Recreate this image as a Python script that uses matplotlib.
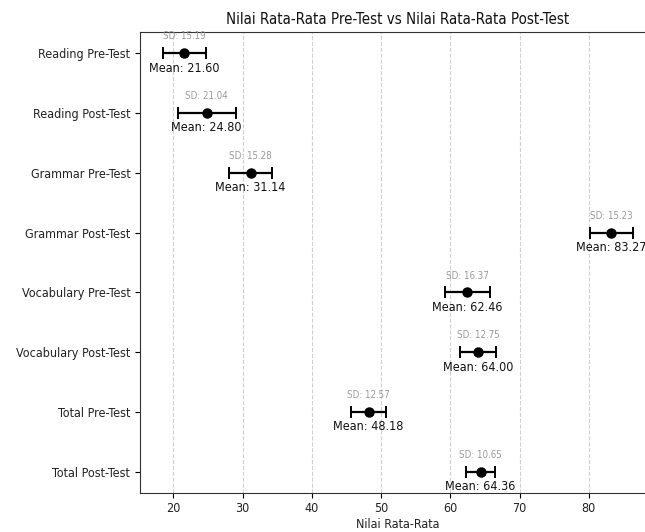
import numpy as np
import matplotlib
matplotlib.use("Agg")
import matplotlib.pyplot as plt
from matplotlib import font_manager as fm

categories = ["Reading Pre-Test", "Reading Post-Test", "Grammar Pre-Test",
              "Grammar Post-Test", "Vocabulary Pre-Test", "Vocabulary Post-Test",
              "Total Pre-Test", "Total Post-Test"]
means = [21.60, 24.80, 31.14, 83.27, 62.46, 64.00, 48.18, 64.36]
sds = [15.19, 21.04, 15.28, 15.23, 16.37, 12.75, 12.57, 10.65]
n_students = 25

# pick a narrow font (reference text is horizontally compressed)
ttf = fm.fontManager.ttflist
have_narrow = any(f.name == "Liberation Sans Narrow" for f in ttf)
have_cond = any(f.name == "DejaVu Sans" and "condensed" in str(f.stretch) for f in ttf)
if have_narrow:
    plt.rcParams["font.family"] = ["Liberation Sans Narrow", "DejaVu Sans"]
    k = 1.08
elif have_cond:
    plt.rcParams["font.family"] = ["DejaVu Sans"]
    plt.rcParams["font.stretch"] = "condensed"
    k = 0.9
else:
    plt.rcParams["font.family"] = ["DejaVu Sans"]
    k = 0.8

means_a = np.array(means)
sds_a = np.array(sds)
se = sds_a / np.sqrt(n_students)
ypos = np.arange(len(categories))

fig = plt.figure(figsize=(6.45, 5.32), dpi=100)
ax = fig.add_axes([140 / 645, (532 - 492.7) / 532, (656 - 140) / 645, 460.4 / 532])

ax.errorbar(means_a, ypos, xerr=se, fmt="o", color="black", ecolor="black",
            markersize=6.5, elinewidth=1.6, capsize=4, capthick=1.4, zorder=3)

for y, m, s in zip(ypos, means_a, sds_a):
    ax.text(m, y - 0.28, f"SD: {s:.2f}", ha="center", va="center",
            fontsize=7.8 * k, color="#9a9a9a")
    ax.text(m, y + 0.25, f"Mean: {m:.2f}", ha="center", va="center",
            fontsize=10 * k, color="#111111")

ax.set_yticks(ypos)
ax.set_yticklabels(categories, fontsize=10 * k, color="#222222")
ax.invert_yaxis()
ax.tick_params(axis="x", labelsize=10 * k, labelcolor="#222222")
ax.xaxis.grid(True, linestyle="--", color="#cfcfcf", linewidth=0.8)
ax.set_axisbelow(True)
ax.set_xlabel("Nilai Rata-Rata", fontsize=10 * k, labelpad=2, color="#222222")
ax.set_title("Nilai Rata-Rata Pre-Test vs Nilai Rata-Rata Post-Test", fontsize=12 * k,
             color="#111111")
for sp in ax.spines.values():
    sp.set_color("#333333")

fig.savefig("out.png", dpi=100)
